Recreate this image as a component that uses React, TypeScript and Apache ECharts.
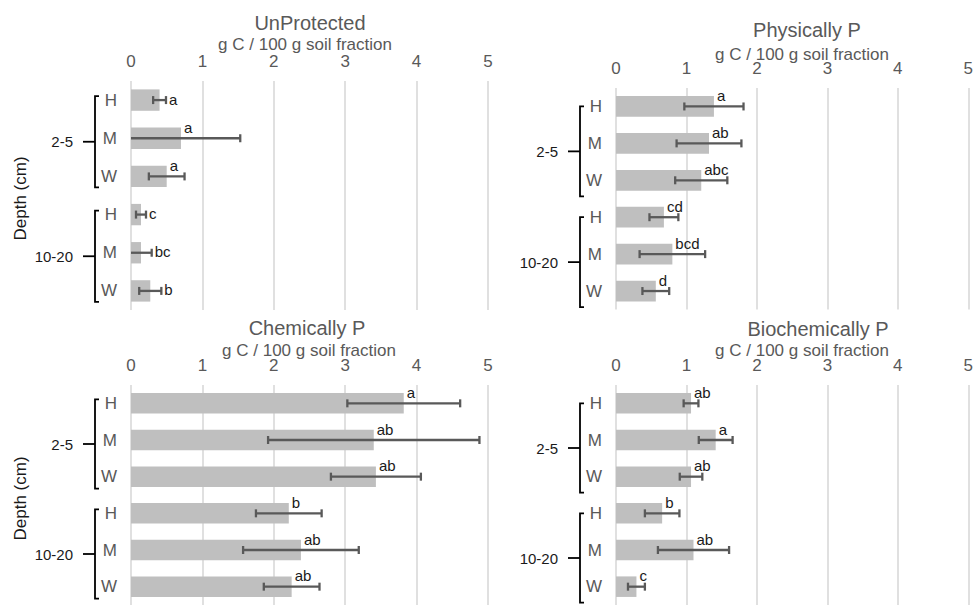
import React, { useEffect, useRef } from "react";
import * as echarts from "echarts";

// Category structure: treatments nested inside depth groups
const treatments = ["H", "M", "W"];
const depths = ["2-5", "10-20"];
const panelTitles = ["UnProtected", "Physically P", "Chemically P", "Biochemically P"];
const unitLabel = "g C / 100 g soil fraction";
const depthAxisName = "Depth (cm)";
const xMin = 0;
const xMax = 5;
const xStep = 1;

// Means, error half-widths and significance letters, ordered 2-5 H/M/W then 10-20 H/M/W
const unprotectedMean = [0.40, 0.70, 0.50, 0.14, 0.14, 0.27];
const unprotectedErr = [0.09, 0.83, 0.25, 0.07, 0.15, 0.155];
const unprotectedLetters = ["a", "a", "a", "c", "bc", "b"];

const physicalMean = [1.39, 1.32, 1.21, 0.68, 0.80, 0.565];
const physicalErr = [0.42, 0.46, 0.37, 0.205, 0.465, 0.19];
const physicalLetters = ["a", "ab", "abc", "cd", "bcd", "d"];

const chemicalMean = [3.82, 3.40, 3.43, 2.21, 2.38, 2.25];
const chemicalErr = [0.79, 1.48, 0.63, 0.46, 0.81, 0.39];
const chemicalLetters = ["a", "ab", "ab", "b", "ab", "ab"];

const biochemicalMean = [1.065, 1.415, 1.065, 0.655, 1.10, 0.29];
const biochemicalErr = [0.105, 0.24, 0.16, 0.245, 0.505, 0.12];
const biochemicalLetters = ["ab", "a", "ab", "b", "ab", "c"];

const FONT = '"Liberation Sans", Arial, Helvetica, sans-serif';
const GRAY_TEXT = "#595959";
const DARK_TEXT = "#1a1a1a";

const categoryKeys = depths.flatMap((d) => treatments.map((t) => `${d}|${t}`));

type Side = "above" | "right";

interface Panel {
  title: string;
  mean: number[];
  err: number[];
  letters: string[];
  grid: { left: number; top: number; width: number; height: number };
  titlePos: [number, number];
  subPos: [number, number];
  labelSide: Side[];
  bracket: [number, number];
  depthName: boolean;
}

const allAbove: Side[] = ["above", "above", "above", "above", "above", "above"];

const panels: Panel[] = [
  {
    title: panelTitles[0],
    mean: unprotectedMean,
    err: unprotectedErr,
    letters: unprotectedLetters,
    grid: { left: 131, top: 81, width: 357, height: 229 },
    titlePos: [310, 22.5],
    subPos: [305, 44],
    labelSide: ["right", "above", "above", "right", "right", "right"],
    bracket: [-4, 11],
    depthName: true,
  },
  {
    title: panelTitles[1],
    mean: physicalMean,
    err: physicalErr,
    letters: physicalLetters,
    grid: { left: 616, top: 88, width: 357.5, height: 221.5 },
    titlePos: [807, 30],
    subPos: [802, 54],
    labelSide: allAbove,
    bracket: [0, 16],
    depthName: false,
  },
  {
    title: panelTitles[2],
    mean: chemicalMean,
    err: chemicalErr,
    letters: chemicalLetters,
    grid: { left: 131, top: 385, width: 357, height: 221 },
    titlePos: [307, 327.5],
    subPos: [309, 350],
    labelSide: allAbove,
    bracket: [-4, 12],
    depthName: true,
  },
  {
    title: panelTitles[3],
    mean: biochemicalMean,
    err: biochemicalErr,
    letters: biochemicalLetters,
    grid: { left: 616, top: 385, width: 357.5, height: 221 },
    titlePos: [818, 329],
    subPos: [802, 350.5],
    labelSide: allAbove,
    bracket: [0, 16],
    depthName: false,
  },
];

function textStyle(text: string, x: number, y: number, size: number, fill: string, align = "center", vAlign = "middle") {
  return {
    text,
    x,
    y,
    fill,
    fontSize: size,
    fontFamily: FONT,
    align,
    textAlign: align,
    verticalAlign: vAlign,
    textVerticalAlign: vAlign,
  };
}

function errorRenderer(p: Panel) {
  return (params: any, api: any) => {
    const k = params.dataIndex;
    const mean = p.mean[k];
    const e = p.err[k];
    const lowRaw = mean - e;
    const low = Math.max(xMin, lowRaw);
    const high = mean + e;
    const [xLo, y] = api.coord([low, k]);
    const [xHi] = api.coord([high, k]);
    const [xMean] = api.coord([mean, k]);
    const cap = 4;
    const stroke = { stroke: "#595959", lineWidth: 2.3 };
    const children: any[] = [
      { type: "line", shape: { x1: xLo, y1: y, x2: xHi, y2: y }, style: stroke },
      { type: "line", shape: { x1: xHi, y1: y - cap, x2: xHi, y2: y + cap }, style: stroke },
    ];
    if (lowRaw >= xMin) {
      children.push({ type: "line", shape: { x1: xLo, y1: y - cap, x2: xLo, y2: y + cap }, style: stroke });
    }
    const side = p.labelSide[k];
    const tx = side === "right" ? xHi + 3 : xMean + 3;
    const ty = side === "right" ? y - 1 : y - 11;
    children.push({
      type: "text",
      style: textStyle(p.letters[k], tx, ty, 15, DARK_TEXT, "left", "middle"),
    });
    return { type: "group", children };
  };
}

function bracketRenderer(p: Panel) {
  return (params: any, api: any) => {
    const g = params.dataIndex;
    const first = g * treatments.length;
    const last = first + treatments.length - 1;
    const [x0, yFirst] = api.coord([xMin, first]);
    const [, yLast] = api.coord([xMin, last]);
    const bx = x0 - 36;
    const top = yFirst + p.bracket[0];
    const bottom = yLast + p.bracket[1];
    const mid = (top + bottom) / 2;
    const stroke = { stroke: "#000", lineWidth: 1.8, fill: "none" };
    return {
      type: "group",
      children: [
        {
          type: "polyline",
          shape: { points: [[bx + 4, top], [bx, top], [bx, bottom], [bx + 4, bottom]] },
          style: stroke,
        },
        { type: "line", shape: { x1: bx - 12, y1: mid, x2: bx, y2: mid }, style: stroke },
        { type: "text", style: textStyle(depths[g], x0 - 58, mid, 15, DARK_TEXT, "right", "middle") },
      ],
    };
  };
}

export default function App() {
  const ref = useRef<HTMLDivElement>(null);

  useEffect(() => {
    if (!ref.current) return;
    const chart = echarts.init(ref.current, undefined, { renderer: "svg" });

    const graphics: any[] = [];
    panels.forEach((p) => {
      graphics.push({ type: "text", x: 0, y: 0, style: textStyle(p.title, p.titlePos[0], p.titlePos[1], 20, GRAY_TEXT) });
      graphics.push({ type: "text", x: 0, y: 0, style: textStyle(unitLabel, p.subPos[0], p.subPos[1], 17, GRAY_TEXT) });
      if (p.depthName) {
        graphics.push({
          type: "text",
          x: 20.5,
          y: p.grid.top + p.grid.height / 2 + 3,
          rotation: Math.PI / 2,
          style: textStyle(depthAxisName, 0, 0, 17, DARK_TEXT),
        });
      }
    });

    const series: any[] = [];
    panels.forEach((p, i) => {
      series.push({
        type: "bar",
        xAxisIndex: i,
        yAxisIndex: i,
        data: p.mean,
        barWidth: "56%",
        itemStyle: { color: "#bfbfbf" },
        silent: true,
        z: 2,
      });
      series.push({
        type: "custom",
        xAxisIndex: i,
        yAxisIndex: i,
        data: p.mean.map((m, k) => [m, k]),
        encode: { x: 0, y: 1 },
        renderItem: errorRenderer(p),
        silent: true,
        z: 3,
      });
      series.push({
        type: "custom",
        xAxisIndex: i,
        yAxisIndex: i,
        data: depths.map((_, g) => [xMin, g * treatments.length]),
        encode: { x: 0, y: 1 },
        renderItem: bracketRenderer(p),
        clip: false,
        silent: true,
        z: 3,
      });
    });

    chart.setOption({
      animation: false,
      backgroundColor: "#ffffff",
      textStyle: { fontFamily: FONT },
      grid: panels.map((p) => ({ ...p.grid, containLabel: false })),
      xAxis: panels.map((_, i) => ({
        type: "value",
        gridIndex: i,
        position: "top",
        min: xMin,
        max: xMax,
        interval: xStep,
        axisLine: { show: false },
        axisTick: { show: false },
        axisLabel: { fontSize: 17, color: GRAY_TEXT, margin: 11, fontFamily: FONT },
        splitLine: { show: true, lineStyle: { color: "#d9d9d9", width: 1.6 } },
      })),
      yAxis: panels.map((_, i) => ({
        type: "category",
        gridIndex: i,
        inverse: true,
        data: categoryKeys,
        axisLine: { show: false },
        axisTick: { show: false },
        splitLine: { show: false },
        axisLabel: {
          fontSize: 17,
          color: GRAY_TEXT,
          margin: 14,
          fontFamily: FONT,
          formatter: (v: string) => v.split("|")[1],
        },
      })),
      graphic: { elements: graphics },
      series,
    });

    return () => chart.dispose();
  }, []);

  return (
    <div
      ref={ref}
      style={{ position: "fixed", left: 0, top: 0, width: 976, height: 605, background: "#fff" }}
    />
  );
}
